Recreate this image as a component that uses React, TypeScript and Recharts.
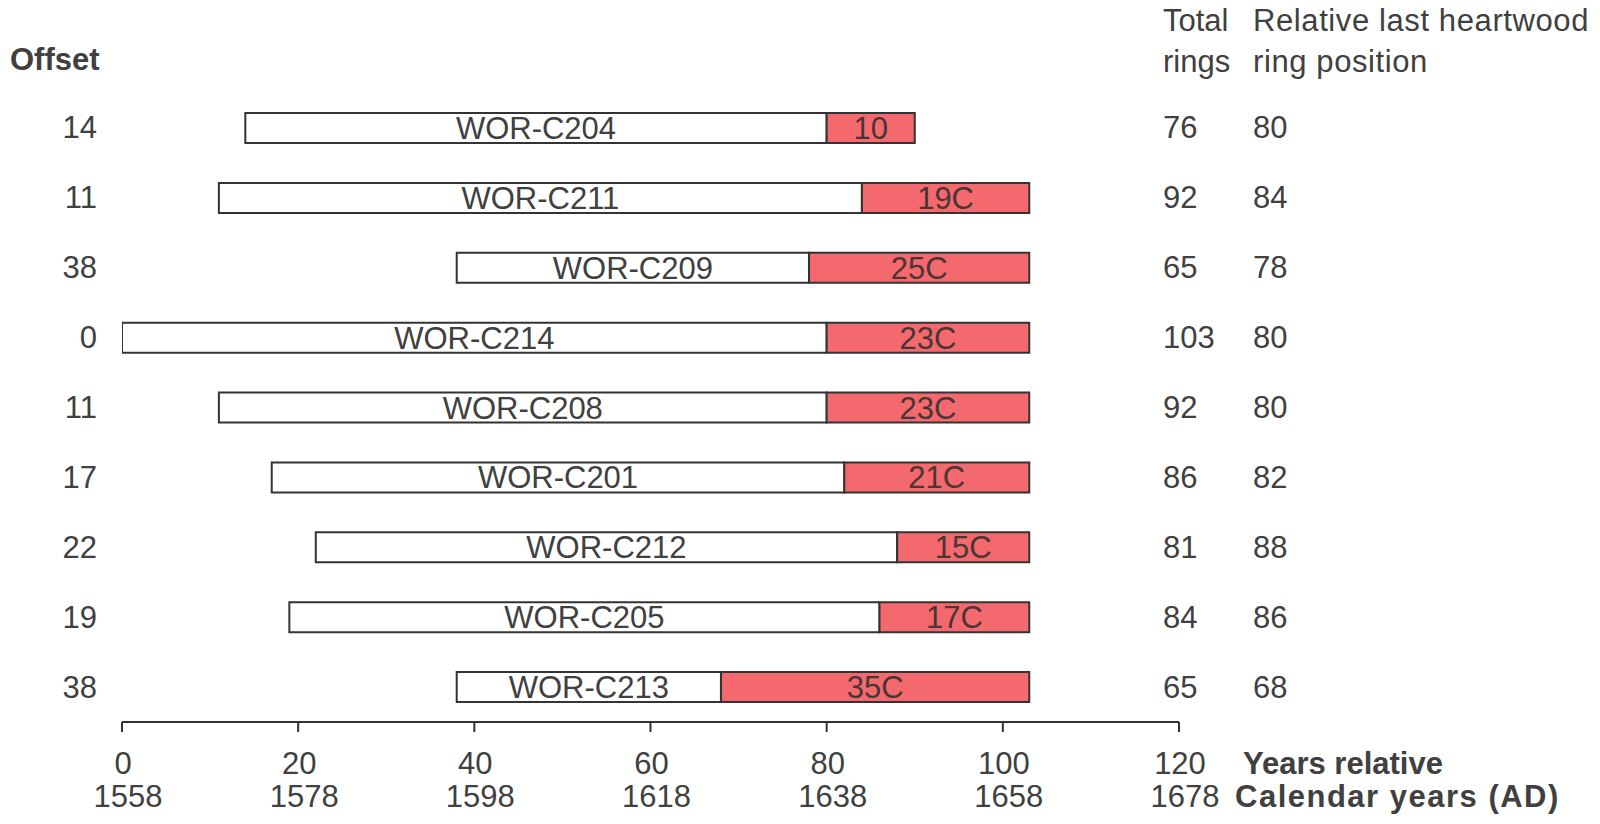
import React from "react";
import { BarChart, Bar, XAxis, YAxis, LabelList, Customized } from "recharts";

const sampleNames = ["WOR-C204", "WOR-C211", "WOR-C209", "WOR-C214", "WOR-C208", "WOR-C201", "WOR-C212", "WOR-C205", "WOR-C213"];
const offsets = [14, 11, 38, 0, 11, 17, 22, 19, 38];
const totalRings = [76, 92, 65, 103, 92, 86, 81, 84, 65];
const lastHeartwood = [80, 84, 78, 80, 80, 82, 88, 86, 68];
const sapwoodLabels = ["10", "19C", "25C", "23C", "23C", "21C", "15C", "17C", "35C"];
const xTicks = [0, 20, 40, 60, 80, 100, 120];
const calendarStart = 1558;

const data = sampleNames.map((name, i) => ({
  name,
  offset: offsets[i],
  heart: lastHeartwood[i] - offsets[i],
  sap: offsets[i] + totalRings[i] - lastHeartwood[i],
  sapLabel: sapwoodLabels[i],
}));

const FONT = "'Liberation Sans', Arial, sans-serif";
const TEXT = "#404040";
const FS = 31;

const YTick = (props: any) => {
  const { y, index } = props;
  return (
    <g fontFamily={FONT} fontSize={FS} fill={TEXT}>
      <text x={97} y={y} textAnchor="end" dominantBaseline="central">{offsets[index]}</text>
      <text x={1163} y={y} textAnchor="start" dominantBaseline="central">{totalRings[index]}</text>
      <text x={1253} y={y} textAnchor="start" dominantBaseline="central">{lastHeartwood[index]}</text>
    </g>
  );
};

const XTick = (props: any) => {
  const { x, y, payload } = props;
  return (
    <g fontFamily={FONT} fontSize={FS} fill={TEXT}>
      <text x={x + 1} y={y + 29} textAnchor="middle" dominantBaseline="central">{payload.value}</text>
      <text x={x + 6} y={y + 62} textAnchor="middle" dominantBaseline="central">{payload.value + calendarStart}</text>
    </g>
  );
};

const Headers = () => (
  <g fontFamily={FONT} fontSize={FS} fill={TEXT}>
    <text x={10} y={59} fontWeight="bold" dominantBaseline="central">Offset</text>
    <text x={1163} y={20} dominantBaseline="central">Total</text>
    <text x={1163} y={61} dominantBaseline="central">rings</text>
    <text x={1253} y={20} dominantBaseline="central" letterSpacing={0.6}>Relative last heartwood</text>
    <text x={1253} y={61} dominantBaseline="central" letterSpacing={0.6}>ring position</text>
    <text x={1243} y={763} fontWeight="bold" dominantBaseline="central">Years relative</text>
    <text x={1235} y={796} fontWeight="bold" dominantBaseline="central" letterSpacing={1.5}>Calendar years (AD)</text>
  </g>
);

export default function App() {
  return (
    <div style={{ position: "absolute", left: 0, top: 0, width: 1600, height: 824, background: "#fff", fontFamily: FONT }}>
      <BarChart
        width={1600}
        height={824}
        data={data}
        layout="vertical"
        margin={{ top: 93, right: 421, bottom: 0, left: 0 }}
        barSize={30}
      >
        <XAxis
          type="number"
          domain={[0, 120]}
          ticks={xTicks}
          height={102}
          axisLine={{ stroke: "#333", strokeWidth: 2 }}
          tickLine={{ stroke: "#333", strokeWidth: 2 }}
          tickSize={10}
          tick={<XTick />}
          allowDataOverflow
        />
        <YAxis
          type="category"
          dataKey="name"
          width={122}
          axisLine={false}
          tickLine={false}
          tick={<YTick />}
        />
        <Bar dataKey="offset" stackId="a" fill="none" stroke="none" isAnimationActive={false} />
        <Bar dataKey="heart" stackId="a" fill="#ffffff" stroke="#333" strokeWidth={2} isAnimationActive={false}>
          <LabelList dataKey="name" position="center" fill={TEXT} fontSize={31} fontFamily={FONT} />
        </Bar>
        <Bar dataKey="sap" stackId="a" fill="#F4696E" stroke="#333" strokeWidth={2} isAnimationActive={false}>
          <LabelList dataKey="sapLabel" position="center" fill="#4a3535" fontSize={31} fontFamily={FONT} />
        </Bar>
        <Customized component={Headers} />
      </BarChart>
    </div>
  );
}
